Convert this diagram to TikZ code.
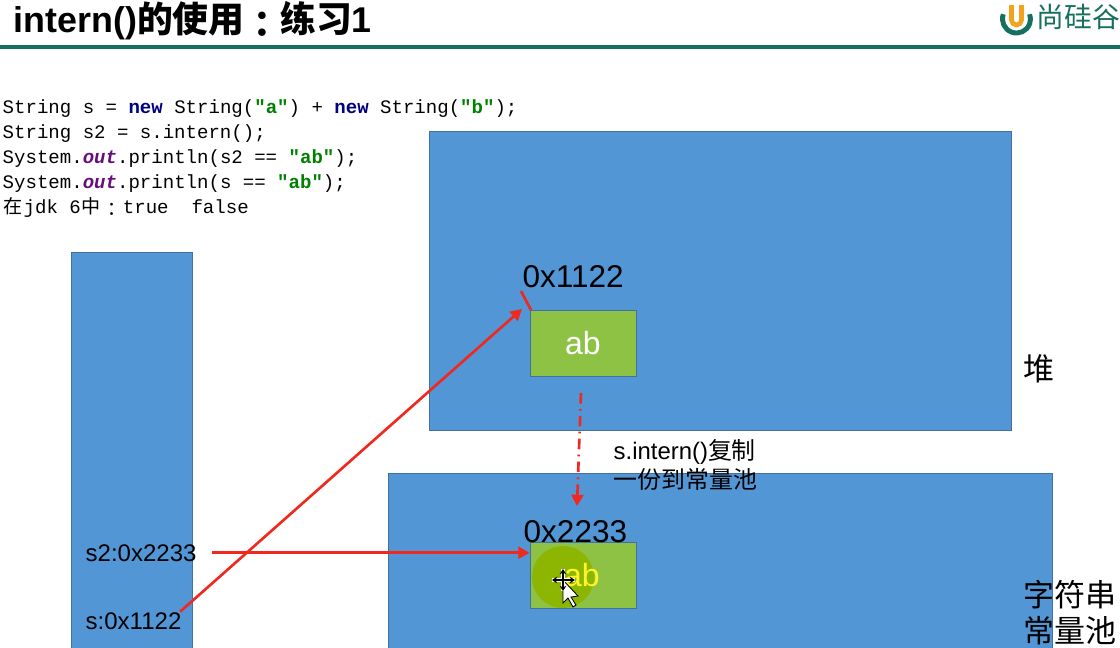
\documentclass[tikz,border=0pt]{standalone}
\usepackage{fontspec}
\usepackage{xcolor}
\setmainfont{Liberation Sans}
\setmonofont{Liberation Mono}
\newfontfamily\cjk{Noto Sans CJK SC}
\newfontfamily\cjktc{Noto Sans CJK TC}
\usetikzlibrary{calc,positioning,arrows.meta}
% 1 px of the slide = 0.01cm = 0.2845pt
\newcommand{\pxfont}[1]{\fontsize{\dimexpr #1pt*2845/10000\relax}{\dimexpr #1pt*2845/10000\relax}\selectfont}
\newcommand{\cjkcell}[1]{\makebox[21\dimexpr 0.2845pt\relax]{\cjk #1}}
\newcommand{\lowcolon}{\raisebox{-0.15em}{\cjktc ：}}
\newcommand{\kw}[1]{\textcolor{kwblue}{\textbf{#1}}}
\newcommand{\fld}[1]{\textcolor{fldpurple}{\textbf{\textit{#1}}}}
\newcommand{\str}[1]{\textcolor{strgreen}{\textbf{#1}}}
\definecolor{boxblue}{HTML}{5296D5}
\definecolor{boxedge}{HTML}{41719C}
\definecolor{boxgreen}{HTML}{8DC244}
\definecolor{arrowred}{HTML}{F0281E}
\definecolor{barteal}{HTML}{17705F}
\definecolor{kwblue}{HTML}{000080}
\definecolor{fldpurple}{HTML}{660E7A}
\definecolor{strgreen}{HTML}{008000}
\definecolor{logoorange}{HTML}{F2A31B}
\definecolor{spotgreen}{HTML}{8DB600}
\tikzset{
  areabox/.style={draw=boxedge,fill=boxblue,line width=0.3pt,inner sep=0pt},
  valbox/.style={draw=boxedge,fill=boxgreen,line width=0.25pt,inner sep=0pt,
    minimum width=106*0.2845pt,minimum height=66*0.2845pt,
    text=white,font=\pxfont{32}},
  addr/.style={inner sep=0pt,font=\pxfont{31.5}},
  varlabel/.style={inner sep=0pt,font=\pxfont{24}},
  arealabel/.style={inner sep=0pt,font=\pxfont{31}\cjk,align=left},
  redline/.style={draw=arrowred,line width=0.75pt},
  redarrow/.style={redline,-{Triangle[length=3.2pt,width=3.4pt]}},
}
\begin{document}
\begin{tikzpicture}[x=0.01cm,y=-0.01cm]
  \useasboundingbox (0,0) rectangle (1120,647);
  \clip (0,0) rectangle (1120,647);
  % title bar
  \node (title) [anchor=base west,inner sep=0pt,font=\pxfont{35.8}\bfseries] at (13,32)
    {intern(){\cjk\bfseries 的使用}{\bfseries\lowcolon}{\cjk\bfseries 练习}1};
  \coordinate (barL) at (0,47);
  \coordinate (barR) at (1120,47);
  \draw [barteal,line width=1.15pt] (barL) -- (barR);
  % logo
  \coordinate (logoC) at (1016.5,19);
  \draw [barteal,line width=1.4pt] ($(logoC)+(200:14)$) arc (200:-20:14);
  \draw [logoorange,line width=1.3pt] ($(logoC)+(-5,-14)$) -- ($(logoC)+(-5,1)$) arc (180:0:5) -- ($(logoC)+(5,-14)$);
  \node (logotext) [anchor=west,inner sep=0pt,text=barteal,font=\pxfont{27.8}\cjk] at (1036,17) {尚硅谷};
  % code
  \node (code) [anchor=north west,inner sep=0pt,align=left,
    font=\fontsize{5.42pt}{7.1pt}\selectfont\ttfamily] at (2,99) {%
    String s = \kw{new} String(\str{"a"}) + \kw{new} String(\str{"b"});\\
    String s2 = s.intern();\\
    System.\fld{out}.println(s2 == \str{"ab"});\\
    System.\fld{out}.println(s == \str{"ab"});\\
    \cjkcell{在}jdk 6\cjkcell{中}\cjkcell{\lowcolon}true~~false};
  % memory areas
  \node (stack) [areabox,minimum width=120*0.2845pt,minimum height=460*0.2845pt] at (132,483) {};
  \node (heap) [areabox,minimum width=581*0.2845pt,minimum height=298*0.2845pt] at (720.5,281) {};
  \node (pool) [areabox,minimum width=663*0.2845pt,minimum height=260*0.2845pt] at (720.5,604) {};
  \node (abHeap) [valbox] at (583,343) {ab};
  \node (abPool) [valbox] at (583,575) {};
  % pointer highlight
  \fill [spotgreen,opacity=0.95] (563,577) circle (31);
  \node (abPoolText) [inner sep=0pt,text=yellow!85!white,font=\pxfont{32}] at (582,575) {ab};
  % labels
  \node (addrHeap) [addr,anchor=base west] at (522,287) {0x1122};
  \node (addrPool) [addr,anchor=base west] at (523,542) {0x2233};
  \node (varS) [varlabel,anchor=base west] at (85,629) {s:0x1122};
  \node (varSs) [varlabel,anchor=base west] at (85,561) {s2:0x2233};
  \node (heapName) [arealabel,anchor=west] at (1023,369) {堆};
  \node (poolName) [arealabel,anchor=north west,text depth=0pt] at (1023,580) {字符串\\[1.3pt]常量池};
  \node (copyNote) [anchor=north west,inner sep=0pt,align=left,
    font=\fontsize{6.8pt}{8.25pt}\selectfont] at (613,439) {s.intern(){\cjk 复制}\\{\cjk 一份到常量池}};
  % connectors
  \coordinate (pHit) at (522,309);
  \coordinate (pTickA) at (521,291);
  \coordinate (pTickB) at (531,310);
  \coordinate (pCopyA) at (581,393);
  \coordinate (pCopyB) at (577,506);
  \draw [redarrow] (varS.east) ++(-2,-9) -- (pHit);
  \draw [redarrow] (varSs.east) ++(15,0) -- (abPool.west |- varSs.east);
  \draw [redline] (pTickA) -- (pTickB);
  \draw [redarrow,dash pattern=on 3pt off 1.5pt on 0.5pt off 1.5pt] (pCopyA) -- (pCopyB);
  % mouse cursor
  \coordinate (pCur) at (563,580);
  \draw [black,fill=white,line width=0.25pt] (pCur)
    -- ++(0,23) -- ++(5,-5) -- ++(5,9) -- ++(3,-2) -- ++(-5,-8) -- ++(7,-1) -- cycle;
  \draw [white,line width=0.9pt] (552,580) -- (575,580) (563,569) -- (563,591);
  \draw [black,line width=0.4pt,{Stealth[length=1.5pt,width=1.9pt]}-{Stealth[length=1.5pt,width=1.9pt]}] (552,580) -- (575,580);
  \draw [black,line width=0.4pt,{Stealth[length=1.5pt,width=1.9pt]}-{Stealth[length=1.5pt,width=1.9pt]}] (563,569) -- (563,591);
\end{tikzpicture}
\end{document}
